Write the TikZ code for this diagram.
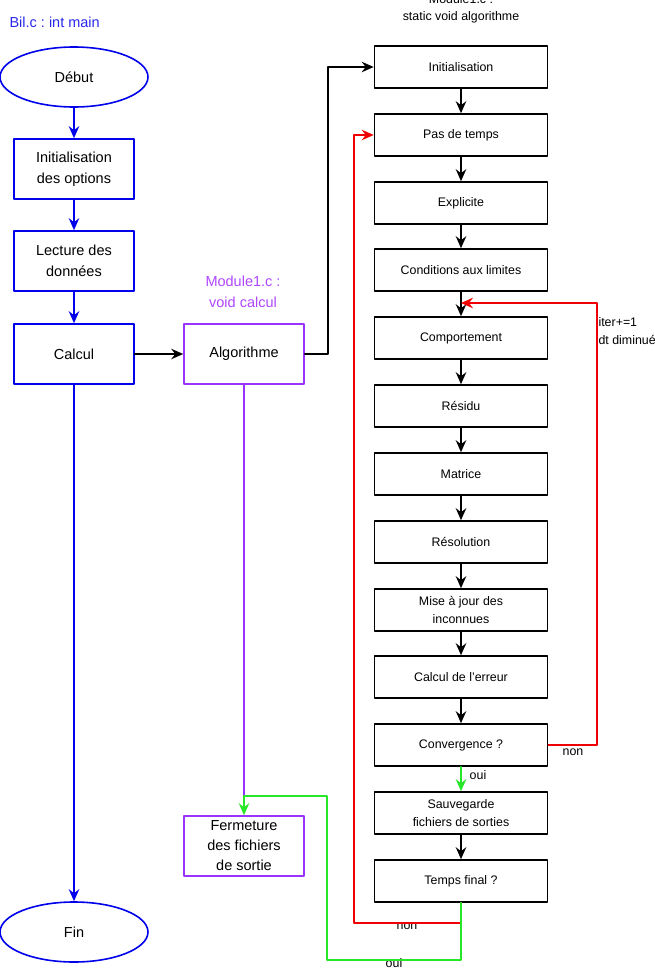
\documentclass[tikz,border=0pt]{standalone}
\usepackage{fontspec}
\setmainfont{Liberation Sans}
\usetikzlibrary{arrows.meta}
\usetikzlibrary{shapes.geometric}
\frenchspacing

\definecolor{bleu}{RGB}{0,0,235}
\definecolor{bleutexte}{RGB}{40,40,235}
\definecolor{mauve}{RGB}{153,51,255}
\definecolor{mauvetexte}{RGB}{175,70,255}
\definecolor{rouge}{RGB}{240,0,0}
\definecolor{vert}{RGB}{40,230,40}

\begin{document}
\begin{tikzpicture}[line cap=round,line join=round,>={Stealth[length=12pt,width=10.5pt,inset=4pt]},x=1pt,y=-1pt,
  trait/.style={line width=1.6pt},
  grand/.style={font=\fontsize{14.5}{21}\selectfont},
  petit/.style={font=\fontsize{12.4}{17.5}\selectfont},
  debutfin/.style={ellipse,draw=bleu,trait,grand,minimum width=148pt,minimum height=60pt},
  mainbox/.style={rectangle,draw=bleu,trait,grand,align=center,minimum width=120pt,minimum height=60pt},
  algobox/.style={rectangle,draw=mauve,trait,grand,align=center,minimum width=120pt,minimum height=60pt},
  etape/.style={rectangle,draw,trait,petit,align=center,minimum width=173pt,minimum height=42pt}]
\useasboundingbox (0,0) rectangle (654,971);
\node[grand,text=bleutexte,anchor=west] (titreMain) at (6,22) {Bil.c : int main};
\node[debutfin] (debut) at (74,77) {Début};
\node[mainbox] (options) at (74,169) {Initialisation\\des options};
\node[mainbox] (lecture) at (74,261) {Lecture des\\données};
\node[mainbox] (calcul) at (74,354) {Calcul};
\node[debutfin] (fin) at (74,932) {Fin};
\node[grand,text=mauvetexte,align=center] (titreCalcul) at (243,292) {Module1.c :\\void calcul};
\node[algobox] (algo) at (244,354) {Algorithme};
\node[algobox,font=\fontsize{14.5}{20}\selectfont] (fermeture) at (244,846) {Fermeture\\des fichiers\\de sortie};
\node[petit,align=center] (titreAlgo) at (461,9) {Module1.c :\\static void algorithme};
\node[etape] (init) at (461,67) {Initialisation};
\node[etape] (pas) at (461,135) {Pas de temps};
\node[etape] (explicite) at (461,203) {Explicite};
\node[etape] (cond) at (461,270) {Conditions aux limites};
\node[etape] (comp) at (461,338) {Comportement};
\node[etape] (residu) at (461,406) {Résidu};
\node[etape] (matrice) at (461,474) {Matrice};
\node[etape] (resol) at (461,542) {Résolution};
\node[etape] (maj) at (461,610) {Mise à jour des\\inconnues};
\node[etape] (erreur) at (461,677) {Calcul de l’erreur};
\node[etape] (conv) at (461,745) {Convergence ?};
\node[etape] (sauve) at (461,813) {Sauvegarde\\fichiers de sorties};
\node[etape] (final) at (461,881) {Temps final ?};
\node[petit,align=left,anchor=west] (iter) at (595,331) {iter+=1\\dt diminué};
\node[petit] (nonConv) at (573,752) {non};
\node[petit] (ouiConv) at (478,775) {oui};
\node[petit] (nonFinal) at (407,926) {non};
\node[petit] (ouiFinal) at (394,963) {oui};
\coordinate (boucle) at (461,303);
\coordinate (jonction) at (244,796);
\draw[->,bleu,trait] (debut.south) -- (options.north);
\draw[->,bleu,trait] (options.south) -- (lecture.north);
\draw[->,bleu,trait] (lecture.south) -- (calcul.north);
\draw[->,bleu,trait] (calcul.south) -- (fin.north);
\draw[->,trait] (calcul.east) -- (algo.west);
\draw[->,trait] (algo.east) -- ++(23,0) |- (init.west);
\draw[mauve,trait] (algo.south) -- (jonction);
\draw[->,trait] (init) -- (pas);
\draw[->,trait] (pas) -- (explicite);
\draw[->,trait] (explicite) -- (cond);
\draw[->,trait] (cond) -- (comp);
\draw[->,trait] (comp) -- (residu);
\draw[->,trait] (residu) -- (matrice);
\draw[->,trait] (matrice) -- (resol);
\draw[->,trait] (resol) -- (maj);
\draw[->,trait] (maj) -- (erreur);
\draw[->,trait] (erreur) -- (conv);
\draw[->,vert,trait] (conv) -- (sauve);
\draw[->,trait] (sauve) -- (final);
\draw[->,rouge,trait] (conv.east) -- ++(48.5,0) |- (boucle);
\draw[->,rouge,trait] (final.south) -- ++(0,20) -- ++(-107,0) |- (pas.west);
\draw[->,vert,trait] (final.south) -- ++(0,57) -| (327,796) -- (jonction) -- (fermeture.north);
\end{tikzpicture}
\end{document}
